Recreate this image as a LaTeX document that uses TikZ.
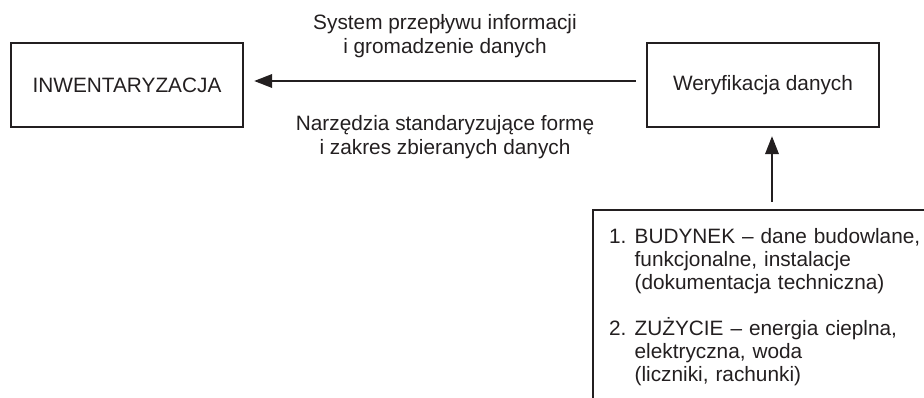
\documentclass[tikz,border=0pt]{standalone}
\usepackage{fontspec}
\setmainfont{Liberation Sans}
\usetikzlibrary{arrows.meta}
\definecolor{ink}{HTML}{231F20}
\begin{document}
\begin{tikzpicture}[x=1pt,y=-1pt, color=ink,
  box/.style={draw, line width=2.3pt, minimum width=232pt, minimum height=84pt,
    inner sep=0pt, font=\fontsize{20.8}{23.1}\selectfont},
  flow/.style={line width=2pt, -{Triangle[length=18pt,width=13.5pt]}},
  lbl/.style={anchor=north, inner sep=0pt, align=center,
    font=\fontsize{20.8}{24}\selectfont},
  srcbox/.style={draw, line width=2.3pt, anchor=north west, inner xsep=16pt,
    inner ysep=18pt, text width=320pt, align=left,
    font=\fontsize{20.8}{23.1}\selectfont}]
\useasboundingbox (0,0) rectangle (924,398);
\clip (0,0) rectangle (924,398);

% main boxes
\node[box] (inw) at (127,85) {INWENTARYZACJA};
\node[box] (ver) at (763,85) {Weryfikacja danych};

% source data box (runs off the right and bottom edges)
\node[srcbox] (src) at (592,209) {%
  \makebox[25.5pt][l]{1.}BUDYNEK – dane budowlane,\\
  \hspace*{25.5pt}funkcjonalne, instalacje\\
  \hspace*{25.5pt}(dokumentacja techniczna)\\[23.1pt]
  \makebox[25.5pt][l]{2.}ZUŻYCIE – energia cieplna,\\
  \hspace*{25.5pt}elektryczna, woda\\
  \hspace*{25.5pt}(liczniki, rachunki)};

% connectors
\coordinate (hrow) at (0,81);
\coordinate (vcol) at (772,0);
\draw[flow, shorten <=10pt, shorten >=10pt] (ver.west |- hrow) -- (inw.east |- hrow);
\draw[flow, shorten <=7pt, shorten >=8pt] (src.north -| vcol) -- (ver.south -| vcol);

% labels along the horizontal connector
\node[lbl] (toplbl) at (445,14.5) {System przepływu informacji\\i gromadzenie danych};
\node[lbl] (botlbl) at (445,115) {Narzędzia standaryzujące formę\\i zakres zbieranych danych};
\end{tikzpicture}
\end{document}
